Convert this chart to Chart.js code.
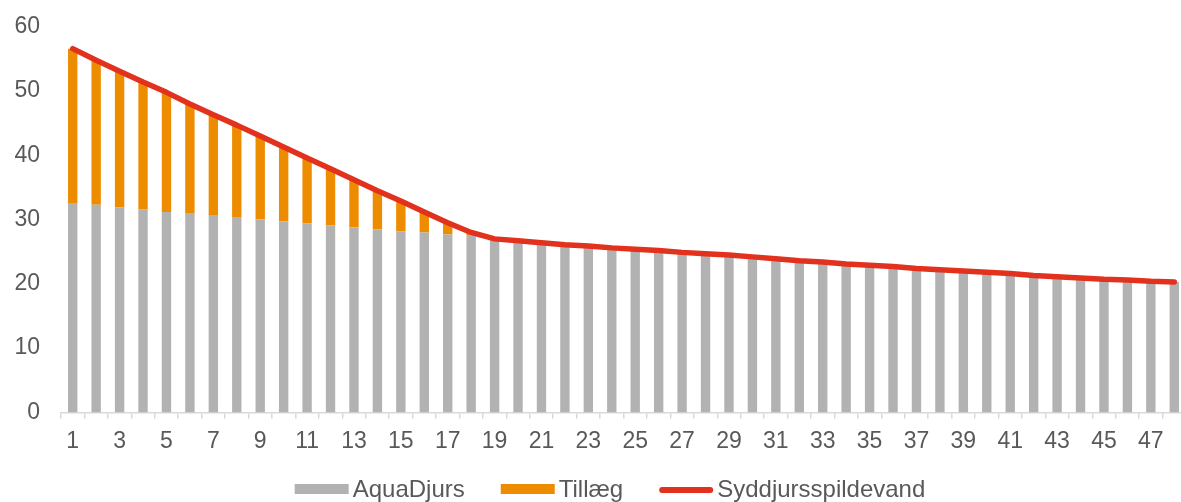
<!DOCTYPE html>
<html>
<head>
<meta charset="utf-8">
<script src="https://cdn.jsdelivr.net/npm/chart.js@4.4.1/dist/chart.umd.min.js"></script>
<style>
    html, body { margin: 0; padding: 0; background: #ffffff; overflow: hidden; }
    #wrap { width: 1190px; height: 502px; position: relative; }
</style>
</head>
<body>
<div id="wrap"><canvas id="chart_canvas"></canvas></div>
<script>
const year_labels = [];
for (let i = 1; i <= 48; i++) { year_labels.push(String(i)); }

const aquadjurs = [
    32.6, 32.3, 31.9, 31.6, 31.2, 30.9, 30.6, 30.3, 30.0, 29.7, 29.4, 29.1,
    28.8, 28.5, 28.2, 28.0, 27.7, 27.5, 27.0, 26.7, 26.4, 26.1, 25.9, 25.6,
    25.4, 25.2, 24.9, 24.7, 24.5, 24.2, 23.9, 23.6, 23.4, 23.1, 22.9, 22.7,
    22.4, 22.2, 22.0, 21.8, 21.6, 21.3, 21.1, 20.9, 20.7, 20.6, 20.4, 20.3
];

const tillaeg = [
    24.0, 22.5, 21.2, 19.8, 18.6, 17.1, 15.7, 14.4, 13.0, 11.6, 10.2, 8.8,
    7.4, 6.0, 4.7, 3.2, 1.8, 0.5, 0, 0, 0, 0, 0, 0,
    0, 0, 0, 0, 0, 0, 0, 0, 0, 0, 0, 0,
    0, 0, 0, 0, 0, 0, 0, 0, 0, 0, 0, 0
];

const syddjurs = [
    56.6, 54.8, 53.1, 51.4, 49.8, 48.0, 46.3, 44.7, 43.0, 41.3, 39.6, 37.9,
    36.2, 34.5, 32.9, 31.2, 29.5, 28.0, 27.0, 26.7, 26.4, 26.1, 25.9, 25.6,
    25.4, 25.2, 24.9, 24.7, 24.5, 24.2, 23.9, 23.6, 23.4, 23.1, 22.9, 22.7,
    22.4, 22.2, 22.0, 21.8, 21.6, 21.3, 21.1, 20.9, 20.7, 20.6, 20.4, 20.3
];

const y_ticks = [0, 10, 20, 30, 40, 50, 60];

const text_color = "#595959";
const axis_color = "#D9D9D9";
const font_family = "'Liberation Sans', Arial, sans-serif";

// legend drawn by hand so box sizes and gaps match the original
const legend_plugin = {
    id: "manual_legend",
    afterDraw(chart) {
        const ctx = chart.ctx;
        const items = chart.data.datasets.map(ds => ({
            label: ds.label,
            color: ds.type === "line" ? ds.borderColor : ds.backgroundColor,
            is_line: ds.type === "line"
        }));

        ctx.save();
        ctx.font = "24px " + font_family;
        const box_w = 54;
        const text_gap = 4;
        const item_gap = 36;
        let total = 0;
        for (const item of items) {
            item.text_w = ctx.measureText(item.label).width;
            total += box_w + text_gap + item.text_w;
        }
        total += item_gap * (items.length - 1);

        let x = 610 - total / 2;
        const y = 489;
        ctx.textBaseline = "middle";
        ctx.textAlign = "left";
        for (const item of items) {
            if (item.is_line) {
                ctx.strokeStyle = item.color;
                ctx.lineWidth = 6;
                ctx.lineCap = "round";
                ctx.beginPath();
                ctx.moveTo(x + 3, y + 1);
                ctx.lineTo(x + box_w - 3, y + 1);
                ctx.stroke();
            } else {
                ctx.fillStyle = item.color;
                ctx.fillRect(x, y - 5, box_w, 10);
            }
            ctx.fillStyle = text_color;
            ctx.fillText(item.label, x + box_w + text_gap, y + 1);
            x += box_w + text_gap + item.text_w + item_gap;
        }
        ctx.restore();
    }
};

let data = {
    labels: year_labels,
    datasets: [
        {
            type: "bar",
            label: "AquaDjurs",
            data: aquadjurs,
            backgroundColor: "#B2B2B2",
            stack: "s",
            order: 1,
            barPercentage: 0.4,
            categoryPercentage: 1.0
        },
        {
            type: "bar",
            label: "Tillæg",
            data: tillaeg,
            backgroundColor: "#EE8C00",
            stack: "s",
            order: 1,
            barPercentage: 0.4,
            categoryPercentage: 1.0
        },
        {
            type: "line",
            label: "Syddjursspildevand",
            data: syddjurs,
            borderColor: "#E2311D",
            borderWidth: 5.5,
            borderCapStyle: "round",
            borderJoinStyle: "round",
            pointRadius: 0,
            tension: 0,
            fill: false,
            order: 0
        }
    ]
};

let config = {
    data: data,
    options: {
        responsive: true,
        maintainAspectRatio: false,
        animation: false,
        layout: {
            padding: { left: 0, right: 4, top: 8, bottom: 38 }
        },
        plugins: {
            legend: { display: false },
            tooltip: { enabled: false }
        },
        scales: {
            x: {
                stacked: true,
                grid: {
                    display: true,
                    offset: true,
                    drawOnChartArea: false,
                    drawTicks: true,
                    tickLength: 6,
                    color: axis_color,
                    lineWidth: 1.5
                },
                border: { display: true, color: axis_color, width: 1.5 },
                ticks: {
                    autoSkip: false,
                    maxRotation: 0,
                    padding: 9,
                    color: text_color,
                    font: { family: font_family, size: 23 },
                    callback: function (value, index) {
                        return index % 2 === 0 ? year_labels[index] : "";
                    }
                }
            },
            y: {
                stacked: true,
                min: 0,
                max: 60,
                afterBuildTicks: function (axis) {
                    axis.ticks = y_ticks.map(v => ({ value: v }));
                },
                afterFit: function (axis) {
                    axis.width = 61;
                },
                grid: { display: false },
                border: { display: false },
                ticks: {
                    padding: 13,
                    color: text_color,
                    font: { family: font_family, size: 23 }
                }
            }
        }
    },
    plugins: [legend_plugin]
};

new Chart(document.getElementById("chart_canvas"), config);
</script>
</body>
</html>
